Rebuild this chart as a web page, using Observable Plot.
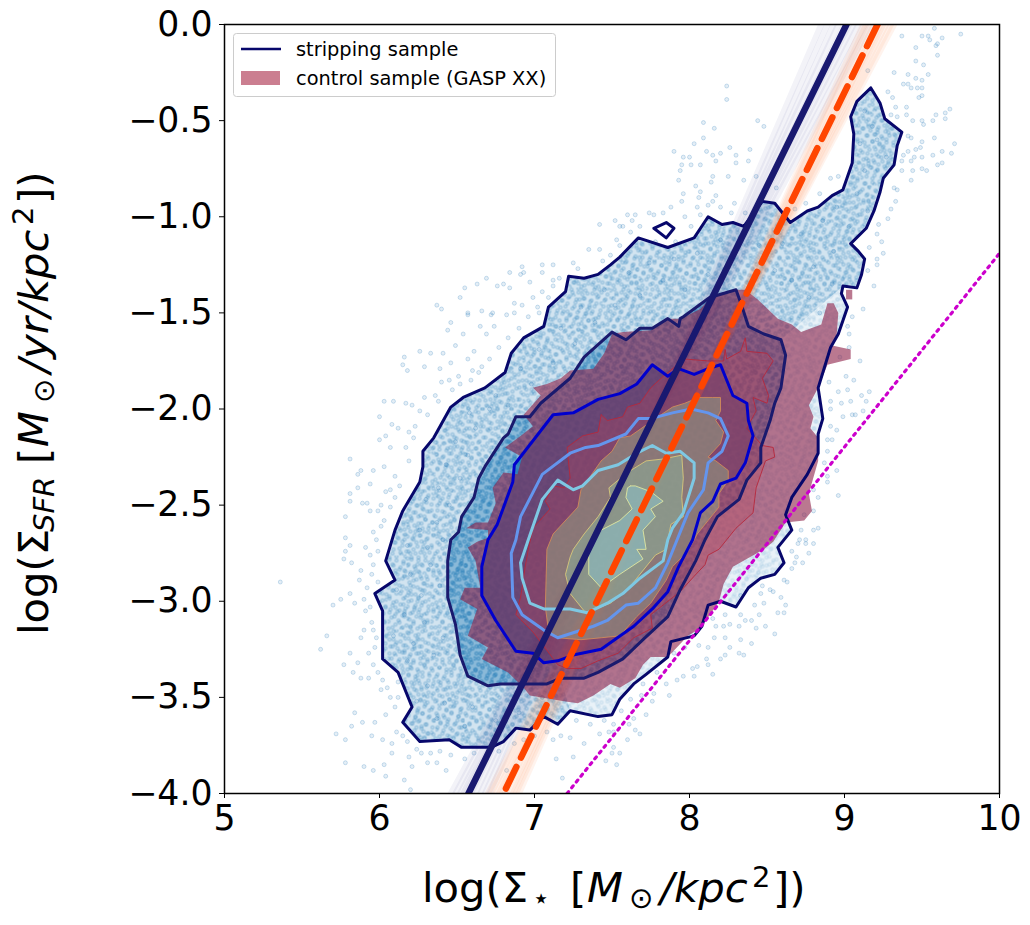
<!DOCTYPE html>
<html lang="en">
<head>
<meta charset="UTF-8">
<title>SFR surface density vs stellar surface density</title>
<script src="https://cdn.jsdelivr.net/npm/d3@7"></script>
<script src="https://cdn.jsdelivr.net/npm/@observablehq/plot@0.6"></script>
<style>
  body { margin: 0; background: #fff; }
  svg { display: block; }
</style>
</head>
<body>
<div id="chart"></div>
<script>
// all values, log(sigma star) / log(sigma SFR)
const xTicks = [5, 6, 7, 8, 9, 10];
const yTicks = [-4, -3.5, -3, -2.5, -2, -1.5, -1, -0.5, 0];

// stripping sample, contour levels from outer to inner
const stripLevel1 = [[9.17,-0.33],[9.23,-0.41],[9.26,-0.49],[9.37,-0.56],[9.34,-0.63],[9.32,-0.73],[9.25,-0.80],[9.23,-0.87],[9.19,-0.97],[9.14,-1.06],[9.04,-1.14],[9.09,-1.18],[9.13,-1.22],[9.11,-1.30],[9.08,-1.37],[8.99,-1.36],[8.98,-1.40],[9.02,-1.47],[8.99,-1.54],[8.96,-1.61],[8.91,-1.68],[8.83,-1.89],[8.86,-2.05],[8.83,-2.13],[8.83,-2.23],[8.76,-2.34],[8.66,-2.46],[8.62,-2.55],[8.66,-2.63],[8.57,-2.72],[8.61,-2.80],[8.55,-2.86],[8.46,-2.88],[8.38,-2.93],[8.30,-3.03],[8.20,-3.00],[8.12,-3.02],[8.08,-3.13],[8.03,-3.18],[7.88,-3.21],[7.86,-3.29],[7.72,-3.38],[7.64,-3.43],[7.55,-3.51],[7.50,-3.59],[7.41,-3.60],[7.23,-3.57],[7.15,-3.64],[7.06,-3.60],[6.97,-3.67],[6.88,-3.66],[6.80,-3.73],[6.72,-3.76],[6.53,-3.76],[6.45,-3.72],[6.26,-3.73],[6.15,-3.63],[6.21,-3.55],[6.12,-3.37],[6.02,-3.30],[6.02,-3.05],[5.97,-2.96],[6.10,-2.89],[6.04,-2.79],[6.10,-2.63],[6.15,-2.53],[6.26,-2.38],[6.28,-2.30],[6.28,-2.22],[6.35,-2.15],[6.46,-1.99],[6.54,-1.94],[6.68,-1.89],[6.81,-1.81],[6.85,-1.71],[6.93,-1.63],[7.06,-1.57],[7.09,-1.47],[7.20,-1.39],[7.22,-1.31],[7.32,-1.32],[7.41,-1.30],[7.49,-1.25],[7.55,-1.21],[7.67,-1.11],[7.86,-1.16],[8.03,-1.11],[8.12,-1.00],[8.21,-1.04],[8.28,-1.03],[8.35,-1.05],[8.47,-0.92],[8.55,-0.93],[8.65,-1.03],[8.76,-0.97],[8.83,-0.95],[8.92,-0.89],[8.99,-0.86],[9.05,-0.72],[9.06,-0.57],[9.04,-0.48],[9.08,-0.40]];
const stripIsland = [[7.77,-1.06],[7.85,-1.03],[7.90,-1.06],[7.85,-1.11]];
const stripLevel2 = [[6.46,-2.68],[6.51,-2.64],[6.53,-2.56],[6.61,-2.46],[6.64,-2.36],[6.68,-2.30],[6.80,-2.15],[6.83,-2.13],[6.88,-2.04],[6.97,-2.04],[7.04,-1.97],[7.23,-1.84],[7.32,-1.73],[7.50,-1.60],[7.59,-1.64],[7.68,-1.58],[7.76,-1.58],[7.86,-1.53],[7.93,-1.57],[7.94,-1.53],[7.96,-1.52],[8.13,-1.42],[8.30,-1.38],[8.34,-1.47],[8.38,-1.57],[8.48,-1.61],[8.59,-1.64],[8.62,-1.72],[8.59,-1.89],[8.55,-1.97],[8.52,-2.06],[8.46,-2.20],[8.46,-2.28],[8.37,-2.37],[8.32,-2.47],[8.18,-2.56],[8.10,-2.68],[8.04,-2.79],[7.94,-2.94],[7.86,-3.08],[7.70,-3.20],[7.57,-3.30],[7.41,-3.37],[7.32,-3.40],[7.17,-3.40],[7.08,-3.43],[6.78,-3.43],[6.70,-3.44],[6.57,-3.39],[6.52,-3.28],[6.49,-3.12],[6.44,-2.98],[6.44,-2.79]];
const stripLevel3 = [[6.70,-2.68],[6.76,-2.60],[6.86,-2.38],[6.87,-2.29],[7.12,-2.03],[7.25,-2.02],[7.41,-1.95],[7.55,-1.92],[7.66,-1.87],[7.76,-1.77],[7.86,-1.83],[7.93,-1.79],[8.03,-1.82],[8.12,-1.79],[8.20,-1.77],[8.28,-1.93],[8.37,-1.97],[8.38,-2.06],[8.41,-2.14],[8.36,-2.28],[8.30,-2.36],[8.20,-2.39],[8.15,-2.48],[8.07,-2.54],[8.02,-2.68],[7.93,-2.82],[7.86,-2.95],[7.76,-3.04],[7.64,-3.13],[7.43,-3.25],[7.25,-3.28],[7.15,-3.31],[7.06,-3.32],[6.99,-3.27],[6.88,-3.26],[6.75,-3.10],[6.66,-2.97],[6.66,-2.82]];
const stripLevel4 = [[6.88,-2.68],[6.91,-2.56],[7.05,-2.34],[7.23,-2.23],[7.33,-2.20],[7.41,-2.19],[7.59,-2.13],[7.67,-2.05],[7.75,-2.05],[7.89,-2.02],[8.01,-2.00],[8.12,-2.02],[8.20,-2.05],[8.25,-2.14],[8.21,-2.22],[8.12,-2.28],[8.09,-2.42],[7.99,-2.54],[7.92,-2.68],[7.86,-2.80],[7.78,-2.93],[7.67,-3.01],[7.59,-3.02],[7.47,-3.10],[7.38,-3.13],[7.15,-3.19],[7.06,-3.15],[6.92,-3.07],[6.86,-2.98],[6.85,-2.75]];
const stripLevel5 = [[6.96,-2.68],[6.91,-2.80],[6.92,-2.88],[6.97,-3.01],[7.06,-3.04],[7.23,-3.04],[7.34,-3.06],[7.47,-3.01],[7.57,-2.96],[7.68,-2.88],[7.83,-2.79],[7.86,-2.68],[7.89,-2.62],[7.96,-2.54],[8.03,-2.36],[8.03,-2.28],[7.94,-2.22],[7.85,-2.23],[7.76,-2.19],[7.66,-2.23],[7.54,-2.29],[7.41,-2.32],[7.31,-2.40],[7.25,-2.42],[7.15,-2.37],[7.05,-2.47]];
// lower right part of the cloud, between the two outer contours, where the points thin out
const thinCloud = [[8.62,-1.72],[8.59,-1.89],[8.55,-1.97],[8.52,-2.06],[8.46,-2.20],[8.46,-2.28],[8.37,-2.37],[8.32,-2.47],[8.18,-2.56],[8.10,-2.68],[8.04,-2.79],[7.94,-2.94],[7.86,-3.08],[7.70,-3.20],[7.57,-3.30],[7.41,-3.37],[7.32,-3.40],[7.17,-3.40],[7.23,-3.57],[7.41,-3.60],[7.50,-3.59],[7.55,-3.51],[7.64,-3.43],[7.72,-3.38],[7.86,-3.29],[7.88,-3.21],[8.03,-3.18],[8.08,-3.13],[8.12,-3.02],[8.20,-3.00],[8.30,-3.03],[8.38,-2.93],[8.46,-2.88],[8.55,-2.86],[8.61,-2.80],[8.57,-2.72],[8.66,-2.63],[8.62,-2.55],[8.66,-2.46],[8.76,-2.34],[8.83,-2.23],[8.83,-2.13],[8.86,-2.05],[8.83,-1.89],[8.91,-1.68],[8.96,-1.61],[8.99,-1.54],[9.02,-1.47],[8.98,-1.40],[8.99,-1.36],[8.59,-1.64]];

// control sample, filled levels from outer to inner
const controlLevel1 = [[7.57,-1.60],[7.75,-1.59],[7.86,-1.53],[7.94,-1.53],[8.07,-1.48],[8.15,-1.41],[8.30,-1.38],[8.36,-1.38],[8.44,-1.43],[8.57,-1.53],[8.66,-1.56],[8.72,-1.60],[8.85,-1.56],[8.89,-1.45],[8.93,-1.45],[8.96,-1.50],[8.95,-1.61],[8.92,-1.67],[9.04,-1.69],[9.04,-1.74],[8.89,-1.77],[8.83,-1.89],[8.77,-1.98],[8.80,-2.04],[8.78,-2.10],[8.83,-2.15],[8.83,-2.27],[8.77,-2.44],[8.79,-2.53],[8.74,-2.58],[8.62,-2.59],[8.54,-2.69],[8.48,-2.73],[8.28,-2.82],[8.22,-2.91],[8.19,-3.00],[8.15,-3.05],[8.07,-3.14],[7.99,-3.18],[7.86,-3.29],[7.75,-3.29],[7.70,-3.33],[7.65,-3.40],[7.55,-3.45],[7.49,-3.43],[7.38,-3.49],[7.28,-3.53],[7.19,-3.52],[6.97,-3.49],[6.93,-3.45],[6.83,-3.37],[6.66,-3.30],[6.70,-3.24],[6.57,-3.18],[6.63,-3.04],[6.52,-2.99],[6.55,-2.93],[6.65,-2.93],[6.62,-2.79],[6.57,-2.72],[6.63,-2.69],[6.70,-2.67],[6.70,-2.63],[6.56,-2.62],[6.62,-2.59],[6.70,-2.59],[6.75,-2.49],[6.73,-2.41],[6.80,-2.33],[6.89,-2.34],[6.92,-2.25],[6.81,-2.20],[6.91,-2.14],[6.99,-2.09],[6.93,-2.03],[7.04,-1.93],[6.99,-1.89],[7.08,-1.87],[7.17,-1.84],[7.23,-1.80],[7.38,-1.79],[7.45,-1.71],[7.50,-1.61]];
const controlSliver = [[9.01,-1.38],[9.05,-1.38],[9.05,-1.43],[9.01,-1.43]];
const controlLevel2 = [[7.43,-2.03],[7.47,-2.06],[7.57,-2.04],[7.60,-1.99],[7.68,-1.97],[7.75,-1.89],[7.83,-1.83],[7.97,-1.74],[8.12,-1.75],[8.22,-1.75],[8.23,-1.69],[8.24,-1.74],[8.33,-1.70],[8.36,-1.63],[8.37,-1.70],[8.50,-1.71],[8.54,-1.75],[8.47,-1.84],[8.51,-1.93],[8.50,-1.97],[8.41,-1.94],[8.43,-2.01],[8.37,-2.10],[8.47,-2.19],[8.54,-2.20],[8.55,-2.25],[8.49,-2.27],[8.43,-2.41],[8.41,-2.54],[8.30,-2.62],[8.19,-2.73],[8.12,-2.76],[8.10,-2.81],[8.03,-2.87],[7.94,-2.95],[7.75,-3.07],[7.76,-3.14],[7.64,-3.19],[7.54,-3.27],[7.41,-3.31],[7.30,-3.35],[7.21,-3.35],[7.15,-3.33],[6.99,-3.16],[6.88,-3.07],[6.91,-2.98],[6.94,-2.82],[6.96,-2.73],[6.99,-2.62],[7.10,-2.52],[7.07,-2.48],[7.12,-2.40],[7.19,-2.41],[7.23,-2.36],[7.21,-2.20],[7.31,-2.14],[7.41,-2.12]];
const controlLevel3 = [[7.43,-2.27],[7.50,-2.22],[7.55,-2.15],[7.62,-2.14],[7.78,-2.05],[7.89,-1.99],[7.97,-1.97],[8.06,-1.94],[8.15,-1.94],[8.20,-1.94],[8.20,-2.01],[8.17,-2.06],[8.22,-2.12],[8.20,-2.18],[8.12,-2.25],[8.17,-2.27],[8.25,-2.32],[8.25,-2.37],[8.19,-2.44],[8.19,-2.51],[8.12,-2.58],[8.05,-2.65],[7.99,-2.74],[7.89,-2.82],[7.85,-2.89],[7.75,-3.01],[7.66,-3.08],[7.55,-3.18],[7.43,-3.19],[7.30,-3.20],[7.15,-3.19],[7.09,-3.15],[7.07,-3.03],[7.08,-2.73],[7.12,-2.65],[7.28,-2.51],[7.30,-2.42]];
const controlLevel4 = [[7.60,-2.33],[7.72,-2.27],[7.83,-2.26],[7.95,-2.24],[7.96,-2.36],[7.95,-2.46],[7.96,-2.56],[7.88,-2.60],[7.85,-2.73],[7.78,-2.76],[7.66,-2.88],[7.60,-2.94],[7.49,-3.01],[7.33,-3.06],[7.23,-2.96],[7.20,-2.86],[7.23,-2.77],[7.25,-2.73],[7.32,-2.65],[7.41,-2.56],[7.49,-2.46],[7.48,-2.41]];
const controlLevel5 = [[7.62,-2.40],[7.65,-2.40],[7.75,-2.43],[7.83,-2.48],[7.75,-2.52],[7.78,-2.56],[7.70,-2.63],[7.72,-2.73],[7.66,-2.73],[7.70,-2.78],[7.55,-2.86],[7.43,-2.93],[7.35,-2.86],[7.35,-2.74],[7.43,-2.63],[7.55,-2.58],[7.63,-2.52],[7.59,-2.46],[7.60,-2.41]];

// scattered spaxels, the sparse ones around the contours
const tailPoints = [[9.37,-0.06],[9.75,-0.05],[9.50,-0.06],[9.54,-0.06],[9.58,-0.02],[9.63,-0.07],[9.55,-0.08],[9.60,-0.10],[9.59,-0.11],[9.46,-0.12],[9.60,-0.16],[9.46,-0.19],[9.51,-0.21],[9.32,-0.25],[9.41,-0.26],[9.54,-0.26],[9.50,-0.29],[9.38,-0.31],[9.41,-0.31],[9.46,-0.28],[9.47,-0.33],[9.50,-0.33],[9.43,-0.33],[9.50,-0.37],[9.48,-0.38],[9.31,-0.38],[9.33,-0.43],[9.40,-0.43],[9.68,-0.44],[9.65,-0.46],[9.40,-0.47],[9.59,-0.47],[9.44,-0.50],[9.50,-0.50],[9.65,-0.49],[9.57,-0.50],[9.51,-0.52],[9.34,-0.48],[9.43,-0.59],[9.58,-0.59],[9.71,-0.62],[9.50,-0.61],[9.46,-0.65],[9.41,-0.66],[9.49,-0.64],[9.38,-0.68],[9.45,-0.69],[9.57,-0.68],[9.63,-0.66],[9.69,-0.67],[9.50,-0.69],[9.63,-0.72],[9.60,-0.73],[9.43,-0.71],[9.53,-0.76],[9.44,-0.76],[9.50,-0.75],[9.37,-0.76],[9.43,-0.81],[9.34,-0.86],[9.33,-0.92],[9.22,-1.04],[9.21,-1.09],[9.16,-1.16],[9.25,-1.19],[9.21,-1.22],[9.21,-1.25]];
const upperPoints = [[8.24,-0.32],[8.24,-0.39],[8.09,-0.51],[8.16,-0.54],[8.44,-0.50],[8.48,-0.53],[8.09,-0.59],[8.03,-0.62],[8.11,-0.66],[8.20,-0.67],[8.26,-0.64],[8.39,-0.65],[7.90,-0.66],[7.96,-0.69],[8.00,-0.69],[8.15,-0.68],[8.30,-0.68],[7.95,-0.73],[8.07,-0.73],[8.01,-0.73],[8.17,-0.71],[8.30,-0.72],[8.38,-0.71],[7.94,-0.76],[7.93,-0.81],[8.15,-0.79],[8.25,-0.79],[8.43,-0.79],[8.35,-0.81],[8.04,-0.84],[8.14,-0.82],[8.07,-0.87],[7.96,-0.88],[8.17,-0.89],[7.95,-0.92],[8.15,-0.92],[8.06,-0.90],[8.29,-0.93],[8.05,-0.95],[7.88,-0.95],[8.20,-0.95],[7.83,-0.98],[7.74,-0.98],[7.60,-0.99],[7.77,-0.99],[7.65,-0.99],[7.63,-1.02],[7.68,-1.05],[7.57,-1.05],[7.97,-1.00],[8.07,-0.99],[7.42,-1.04],[7.52,-1.02],[7.55,-1.05],[7.35,-1.17],[7.42,-1.17],[7.53,-1.12],[7.49,-1.20],[7.25,-1.24],[7.12,-1.25],[7.05,-1.25],[6.92,-1.26],[6.84,-1.29],[6.69,-1.32],[6.63,-1.35],[6.55,-1.37],[6.76,-1.36],[6.80,-1.35],[6.84,-1.37],[6.91,-1.30],[6.93,-1.29],[7.05,-1.29],[7.12,-1.33],[6.97,-1.34],[6.52,-1.42],[6.37,-1.46],[6.40,-1.48],[6.57,-1.50],[6.66,-1.49],[6.73,-1.50],[6.82,-1.51],[6.87,-1.45],[6.99,-1.42],[7.05,-1.39],[7.09,-1.42],[7.12,-1.36],[6.92,-1.46]];
const leftPoints = [[6.57,-1.51],[6.46,-1.55],[6.44,-1.59],[6.65,-1.57],[6.72,-1.51],[6.87,-1.50],[6.54,-1.61],[6.74,-1.57],[6.69,-1.61],[6.26,-1.70],[6.33,-1.71],[6.16,-1.73],[6.15,-1.77],[6.18,-1.80],[6.29,-1.78],[6.41,-1.71],[6.49,-1.67],[6.39,-1.79],[6.46,-1.76],[6.57,-1.74],[6.61,-1.70],[6.40,-1.86],[6.51,-1.83],[6.64,-1.81],[6.47,-1.90],[6.59,-1.85],[6.29,-1.94],[6.38,-1.96],[6.03,-1.96],[6.09,-1.96],[6.17,-1.97],[6.21,-1.98],[6.00,-2.04],[6.08,-2.08],[6.12,-2.10],[6.26,-2.01],[6.19,-2.12],[6.04,-2.14],[6.00,-2.16],[6.07,-2.20],[6.17,-2.20],[6.23,-2.09],[5.81,-2.26],[5.88,-2.32],[5.86,-2.34],[5.96,-2.32],[6.03,-2.30],[6.10,-2.35],[5.94,-2.39],[5.81,-2.44],[5.86,-2.41],[6.04,-2.43],[5.81,-2.48],[5.89,-2.49],[5.92,-2.49],[6.10,-2.46],[5.94,-2.53],[5.99,-2.53],[5.78,-2.56],[6.07,-2.51],[6.01,-2.61],[5.96,-2.64],[5.78,-2.67],[5.81,-2.71],[5.91,-2.72],[5.98,-2.68],[5.78,-2.74],[5.82,-2.80],[5.77,-2.78],[5.94,-2.76],[5.88,-2.84],[5.95,-2.86],[5.87,-2.89],[5.81,-2.96],[5.75,-2.99],[5.90,-2.99],[5.84,-3.01],[5.94,-3.03],[5.90,-3.15],[5.96,-3.15],[5.88,-3.19],[5.97,-3.24],[5.81,-3.27],[5.77,-3.33],[5.86,-3.32],[5.96,-3.33],[5.83,-3.37],[5.93,-3.40],[5.88,-3.40],[6.02,-3.41],[6.07,-3.50],[6.01,-3.46],[5.84,-3.58],[6.12,-3.50],[5.97,-3.63],[5.89,-3.63],[5.82,-3.65],[5.78,-3.72],[6.02,-3.72],[6.08,-3.74],[6.18,-3.73],[5.95,-3.70],[6.08,-3.79],[6.27,-3.79],[6.39,-3.78],[5.78,-3.84],[5.90,-3.86],[5.96,-3.88],[6.03,-3.85],[6.19,-3.81],[6.21,-3.86],[6.43,-3.88],[6.31,-3.84],[6.16,-3.93],[6.04,-3.91],[6.20,-3.98],[5.62,-3.25],[5.66,-3.18],[5.70,-3.02],[5.36,-2.90],[5.72,-3.69]];
const lowerPoints = [[6.65,-3.88],[6.82,-3.88],[7.14,-3.82],[7.18,-3.92],[7.12,-3.72],[7.23,-3.71],[7.32,-3.74],[7.42,-3.69],[7.51,-3.68],[7.60,-3.72],[7.25,-3.81],[7.53,-3.85],[7.46,-3.83],[7.55,-3.79],[7.50,-3.79],[7.51,-3.76],[7.65,-3.67],[7.68,-3.69],[7.72,-3.59],[7.64,-3.61],[7.61,-3.64],[7.51,-3.64],[7.48,-3.68],[7.77,-3.48],[7.76,-3.52],[7.69,-3.49],[7.87,-3.49],[7.85,-3.43],[7.92,-3.41],[7.96,-3.39],[8.03,-3.39],[8.15,-3.38],[8.02,-3.35],[8.05,-3.34],[8.12,-3.33],[8.11,-3.30],[8.20,-3.30],[8.23,-3.28],[8.32,-3.27],[8.35,-3.28],[8.26,-3.24],[8.40,-3.22],[8.33,-3.20],[8.12,-3.24],[8.23,-3.19],[8.16,-3.19],[8.55,-3.17],[8.49,-3.13],[8.43,-3.14],[8.32,-3.13],[8.26,-3.12],[8.17,-3.13],[8.22,-3.13],[8.40,-3.10],[8.36,-3.10],[8.45,-3.07],[8.33,-3.07],[8.61,-3.06],[8.57,-3.06],[8.48,-3.01],[8.62,-3.02],[8.54,-2.95],[8.59,-2.98],[8.63,-2.90],[8.52,-2.94],[8.46,-2.96],[8.73,-2.80],[8.68,-2.80],[8.69,-2.77],[8.77,-2.75],[8.80,-2.70],[8.71,-2.68],[8.75,-2.70],[8.66,-2.74]];
const rightPoints = [[9.10,-1.75],[9.03,-1.61],[9.02,-1.57],[9.01,-1.83],[9.06,-1.85],[8.96,-1.91],[9.02,-1.90],[9.11,-1.93],[9.16,-1.91],[8.91,-1.96],[8.98,-1.97],[9.04,-1.96],[9.14,-1.96],[9.12,-2.01],[9.05,-2.03],[8.99,-2.04],[9.07,-2.03],[8.91,-2.09],[8.89,-2.16],[8.95,-2.11],[8.89,-2.22],[8.95,-2.32],[8.89,-2.35],[8.89,-2.38],[8.83,-2.46],[8.96,-2.45],[8.80,-2.53],[8.83,-2.62],[8.72,-2.63],[8.80,-2.63],[8.75,-2.68]];
// just outside the outer contour, where the cloud thins out
const edgePoints = [[7.02,-1.47],[6.96,-1.52],[6.90,-1.58],[6.83,-1.63],[6.77,-1.68],[6.71,-1.74],[6.66,-1.78],[6.60,-1.80],[6.52,-1.87],[6.45,-1.85],[6.36,-1.93],[6.31,-2.03],[6.22,-2.15],[6.19,-2.27],[6.13,-2.40],[6.07,-2.42],[6.01,-2.50],[6.03,-2.58],[5.99,-2.74],[5.96,-2.81],[5.99,-2.90],[5.92,-2.93],[5.91,-3.05],[5.95,-3.11],[5.98,-3.19],[5.93,-3.27],[5.99,-3.37],[6.05,-3.45],[6.10,-3.55],[6.04,-3.59],[6.11,-3.68],[6.15,-3.70],[6.24,-3.77],[6.33,-3.79],[6.37,-3.84],[6.46,-3.80],[6.55,-3.82],[6.61,-3.79],[6.69,-3.82],[6.77,-3.78],[6.87,-3.74],[6.93,-3.72],[7.00,-3.70],[7.08,-3.68],[7.17,-3.70],[7.27,-3.62],[7.36,-3.64],[7.45,-3.62],[7.56,-3.57],[7.62,-3.51],[7.70,-3.43],[7.79,-3.37],[7.90,-3.27],[7.97,-3.24],[8.06,-3.23],[8.15,-3.09],[8.23,-3.07],[8.33,-2.97],[8.42,-3.02],[8.47,-2.92],[8.61,-2.89],[8.66,-2.83],[8.70,-2.70],[8.74,-2.55],[8.80,-2.42],[8.87,-2.28],[8.92,-2.16],[8.91,-2.00],[8.90,-1.86],[8.97,-1.73],[9.03,-1.68],[9.05,-1.52],[9.12,-1.48],[9.19,-1.36],[9.15,-1.28],[9.24,-1.13],[9.28,-1.01],[9.30,-0.96],[9.32,-0.85],[9.37,-0.71],[9.41,-0.58],[9.30,-0.47],[9.28,-0.35],[9.15,-0.24],[8.96,-0.79],[8.91,-0.80],[8.84,-0.88],[8.75,-0.93],[8.68,-0.96],[8.56,-0.85],[8.48,-0.86],[8.36,-0.98],[8.27,-0.98],[8.12,-0.94],[8.01,-1.05],[7.91,-1.13],[7.78,-1.13],[7.62,-1.08],[7.55,-1.15],[7.44,-1.23],[7.28,-1.27],[7.16,-1.32],[7.03,-1.50]];
// a few inside the outer contour
const innerPoints = [[6.12,-3.42],[6.18,-3.31],[6.24,-3.52],[6.31,-3.44],[6.37,-3.61],[6.42,-3.53],[6.09,-3.18],[6.16,-3.07],[6.22,-3.22],[6.29,-3.11],[6.35,-3.28],[6.41,-3.19],[6.11,-2.94],[6.20,-2.86],[6.27,-2.97],[6.33,-2.81],[6.39,-2.92],[6.18,-2.71],[6.26,-2.63],[6.31,-2.72],[6.37,-2.59],[6.41,-2.68],[6.30,-2.47],[6.38,-2.41],[6.45,-2.50],[6.43,-2.29],[6.52,-2.36],[6.49,-2.17],[6.57,-2.24],[6.62,-2.10],[6.58,-2.02],[6.71,-2.00],[6.75,-1.93],[6.83,-1.98],[6.91,-1.79],[6.98,-1.87],[7.03,-1.69],[7.12,-1.76],[7.17,-1.58],[7.26,-1.66],[7.30,-1.47],[7.39,-1.55],[7.45,-1.38],[7.52,-1.46],[7.61,-1.29],[7.68,-1.41],[7.74,-1.24],[7.83,-1.33],[7.90,-1.22],[7.97,-1.38],[8.05,-1.19],[8.12,-1.30],[8.20,-1.12],[8.28,-1.22],[8.45,-1.15],[8.60,-1.14],[8.72,-1.09],[8.86,-1.02],[8.95,-0.95],[9.08,-0.88],[9.13,-0.76],[9.10,-0.62],[9.18,-0.53],[9.13,-0.45],[9.21,-0.60],[9.27,-0.69],[9.15,-0.97],[9.03,-1.05],[8.93,-1.18],[8.80,-1.26],[8.92,-1.35],[8.77,-1.42],[8.84,-1.50],[8.66,-1.33],[8.55,-1.28],[6.60,-3.55],[6.75,-3.62],[6.90,-3.58],[7.05,-3.50],[6.55,-3.65]];

// straight fits: x where each line leaves the top and the bottom of the axes
const stripFit = { top: 9.013, bottom: 6.574 };
const controlFit = { top: 9.213, bottom: 6.80 };
const referenceLine = [[7.21,-4], [10,-1.19]];
const stripSamplesTop = [8.85, 8.89, 8.93, 8.96, 9.00, 9.03, 9.06, 9.09, 9.13, 9.17];
const stripSamplesBottom = [6.71, 6.68, 6.65, 6.62, 6.59, 6.56, 6.54, 6.52, 6.49, 6.46];
const controlSamplesTop = [9.12, 9.14, 9.16, 9.19, 9.21, 9.23, 9.25, 9.27, 9.30, 9.32];
const controlSamplesBottom = [6.90, 6.88, 6.86, 6.84, 6.81, 6.79, 6.77, 6.75, 6.72, 6.70];

// fill texture for the dense part of the cloud (tile pixels, not data)
const grainA = [[2,4],[9,1],[16,6],[24,2],[31,5],[38,1],[6,10],[13,12],[21,9],[28,13],[35,10],[41,14],[3,17],[10,19],[18,16],[25,20],[32,17],[39,21],[7,24],[15,23],[22,27],[29,24],[36,28],[1,29],[12,30],[19,33],[26,31],[33,34],[40,30],[5,35],[14,36],[23,35],[37,35],[17,21],[30,9],[8,15],[34,23],[20,3],[42,7],[27,17]];
const grainB = [[1,3],[7,6],[14,2],[21,5],[27,1],[4,11],[11,13],[18,9],[25,12],[2,18],[9,20],[16,16],[23,19],[28,23],[5,26],[12,24],[19,27],[26,30],[1,32],[8,33],[15,31],[22,36],[4,39],[12,38],[18,40],[27,37]];

const scatter = [...tailPoints, ...upperPoints, ...leftPoints, ...lowerPoints, ...rightPoints, ...edgePoints, ...innerPoints];
const closed = a => [...a, a[0]];
const px = d => d[0], py = d => d[1];
const sampleRows = (tops, bottoms) => tops.flatMap((t, i) => [{x: t, y: 0, k: i}, {x: bottoms[i], y: -4, k: i}]);

const area = (pts, fill, fillOpacity, stroke, strokeWidth) =>
  Plot.line(closed(pts), {x: px, y: py, fill, fillOpacity, stroke: stroke || "none", strokeWidth: strokeWidth || 0, clip: true});
const contour = (pts, stroke) =>
  Plot.line(closed(pts), {x: px, y: py, stroke, strokeWidth: 3, strokeLinejoin: "round", clip: true});

const plot = Plot.plot({
  width: 1030,
  height: 925,
  marginLeft: 224,
  marginRight: 31,
  marginTop: 24,
  marginBottom: 132,
  style: {fontFamily: "'DejaVu Sans', sans-serif", background: "#fff", color: "#000"},
  x: {domain: [5, 10], label: null},
  y: {domain: [-4, 0], label: null},
  marks: [
    // blue cloud first, everything else sits on it
    area(stripLevel1, "#1f77b4", 0.2),
    area(stripLevel1, "url(#grainA)", 1),
    area(stripLevel1, "url(#grainB)", 1),
    area(stripLevel2, "#1f77b4", 0.4),
    area(stripLevel2, "url(#grainA)", 1),
    area(stripLevel2, "url(#grainB)", 1),
    area(thinCloud, "#fff", 0.5),
    area(stripLevel3, "#1f77b4", 0.75),
    Plot.dot(scatter, {x: px, y: py, r: 2, fill: "#1f77b4", fillOpacity: 0.12, stroke: "#1f77b4", strokeOpacity: 0.22, strokeWidth: 1, clip: true}),

    // spread of the fits
    Plot.line(sampleRows(stripSamplesTop, stripSamplesBottom), {x: "x", y: "y", z: "k", stroke: "#191970", strokeOpacity: 0.05, strokeWidth: 6, clip: true}),
    Plot.line(sampleRows(controlSamplesTop, controlSamplesBottom), {x: "x", y: "y", z: "k", stroke: "#ff8c50", strokeOpacity: 0.1, strokeWidth: 6, clip: true}),

    // control sample
    area(controlLevel1, "#8c1e46", 0.6),
    area(controlSliver, "#8c1e46", 0.6),
    area(controlLevel2, "#be465a", 0.3, "#b5283c", 0.9),
    area(controlLevel3, "#96b486", 0.45, "#d08a5a", 0.9),
    area(controlLevel4, "#8cc3a5", 0.4, "#d8c87a", 0.9),
    area(controlLevel5, "#8cd2e1", 0.4, "#e0e8a0", 0.9),

    // stripping sample
    contour(stripLevel1, "#07076b"),
    contour(stripIsland, "#07076b"),
    contour(stripLevel2, "#1a1a6e"),
    contour(stripLevel3, "#0000cd"),
    contour(stripLevel4, "#6495ed"),
    contour(stripLevel5, "#7ec8e3"),

    Plot.line(referenceLine, {x: px, y: py, stroke: "#cc00cc", strokeWidth: 3.2, strokeDasharray: "2.4,5", clip: true}),
    Plot.line([[stripFit.top, 0], [stripFit.bottom, -4]], {x: px, y: py, stroke: "#191970", strokeWidth: 6.5, clip: true}),
    Plot.line([[controlFit.top, 0], [controlFit.bottom, -4]], {x: px, y: py, stroke: "#ff4500", strokeWidth: 6.5, strokeDasharray: "24,10.4", clip: true}),

    Plot.frame({stroke: "#000", strokeWidth: 1.5}),
    Plot.axisX({ticks: xTicks, tickSize: 5, tickPadding: 7, fontSize: 34.7, label: null, tickFormat: d => String(d)}),
    Plot.axisY({ticks: yTicks, tickSize: 5, tickPadding: 7, fontSize: 34.7, label: null, tickFormat: d => d.toFixed(1).replace("-", "\u2212")})
  ]
});

document.querySelector("#chart").append(plot);

const svg = d3.select(plot);

// texture tiles
const defs = svg.append("defs");
[["grainA", grainA, 43, 37], ["grainB", grainB, 29, 41]].forEach(([id, dots, w, h]) => {
  const pattern = defs.append("pattern").attr("id", id).attr("patternUnits", "userSpaceOnUse").attr("width", w).attr("height", h);
  dots.forEach(([cx, cy]) => {
    pattern.append("circle").attr("cx", cx).attr("cy", cy).attr("r", 1.8)
      .attr("fill", "#1f77b4").attr("fill-opacity", 0.17).attr("stroke", "#1f77b4").attr("stroke-opacity", 0.24);
  });
});

// math labels and the legend are plain svg text on top of the plot
function mathLabel(g, parts) {
  const t = g.append("text").attr("font-family", "'DejaVu Sans', sans-serif").attr("font-size", 41.7)
    .attr("fill", "#000").attr("text-anchor", "start");
  parts.forEach(p => {
    const s = t.append("tspan").text(p.t).attr("x", p.x).attr("y", p.y || 0);
    if (p.i) s.attr("font-style", "italic");
    if (p.s) s.attr("font-size", p.s);
  });
}

mathLabel(svg.append("g").attr("transform", "translate(422,902)"), [
  {t: "log(\u03a3", x: 0},
  {t: "\u22c6", s: 29, x: 110, y: 6},
  {t: "[", x: 148},
  {t: "M", i: true, x: 165},
  {t: "\u2299", s: 29, x: 207, y: 6},
  {t: "/kpc", i: true, x: 238},
  {t: "2", s: 29, x: 330, y: -15},
  {t: "])", x: 351}
]);

mathLabel(svg.append("g").attr("transform", "translate(48,635) rotate(-90)"), [
  {t: "log(\u03a3", x: 0},
  {t: "SFR", i: true, s: 29, x: 103, y: 6},
  {t: "[", x: 171},
  {t: "M", i: true, x: 188},
  {t: "\u2299", s: 29, x: 232, y: 6},
  {t: "/yr/kpc", i: true, x: 262},
  {t: "2", s: 29, x: 410, y: -15},
  {t: "])", x: 431}
]);

const legend = svg.append("g").attr("font-family", "'DejaVu Sans', sans-serif").attr("font-size", 19.4).attr("text-anchor", "start");
legend.append("rect").attr("x", 233.5).attr("y", 33.5).attr("width", 322).attr("height", 63).attr("rx", 3)
  .attr("fill", "#fff").attr("fill-opacity", 0.8).attr("stroke", "#ccc");
legend.append("line").attr("x1", 241).attr("x2", 281).attr("y1", 49).attr("y2", 49).attr("stroke", "#07076b").attr("stroke-width", 2.7);
legend.append("rect").attr("x", 241).attr("y", 71).attr("width", 39).attr("height", 14).attr("fill", "#cb7e90");
legend.append("text").attr("x", 296).attr("y", 56).text("stripping sample");
legend.append("text").attr("x", 296).attr("y", 85).text("control sample (GASP XX)");
</script>
</body>
</html>
